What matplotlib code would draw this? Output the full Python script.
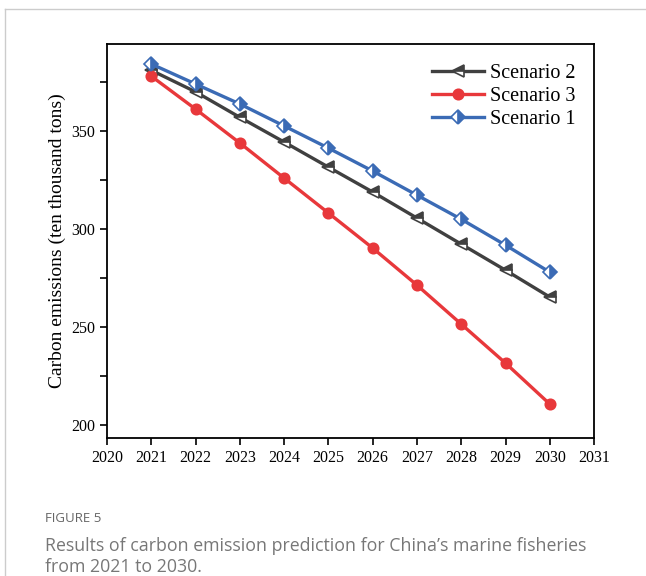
import matplotlib.pyplot as plt
from matplotlib.ticker import MultipleLocator
from matplotlib.lines import Line2D

years = [2021, 2022, 2023, 2024, 2025, 2026, 2027, 2028, 2029, 2030]
scenario1 = [384.2, 374.0, 363.8, 352.6, 341.3, 329.6, 317.3, 305.0, 291.8, 278.0]
scenario2 = [381.0, 370.0, 357.0, 344.4, 331.6, 318.9, 305.6, 292.3, 279.0, 265.3]
scenario3 = [378.0, 361.2, 343.9, 326.0, 308.2, 290.3, 271.4, 251.5, 231.6, 210.7]

plt.rcParams['font.family'] = ['Liberation Serif']

fig = plt.figure(figsize=(6.46, 5.76), dpi=100)
ax = fig.add_axes([0.1656, 0.2396, 0.754, 0.684])

ax.plot(years, scenario2, color='#404040', lw=2.4, marker='<', ms=8.5,
        fillstyle='top', markerfacecoloralt='white', mec='#404040', mew=1.2,
        label='Scenario 2')
ax.plot(years, scenario3, color='#E8383B', lw=2.4, marker='o', ms=7.5,
        mec='#E8383B', mfc='#E8383B', mew=1.2, label='Scenario 3')
ax.plot(years, scenario1, color='#3B6BB5', lw=2.4, marker='D', ms=7.5,
        fillstyle='right', markerfacecoloralt='white', mec='#3B6BB5', mew=1.2,
        label='Scenario 1')

ax.set_xlim(2020, 2031)
ax.set_ylim(193.4, 394.4)
ax.xaxis.set_major_locator(MultipleLocator(1))
ax.yaxis.set_major_locator(MultipleLocator(50))
ax.yaxis.set_minor_locator(MultipleLocator(25))
ax.tick_params(axis='both', which='both', direction='out', length=5, width=1.2, labelsize=11.5)
for s in ax.spines.values():
    s.set_linewidth(1.3)
ax.set_ylabel('Carbon emissions (ten thousand tons)', fontsize=14)

ax.legend(loc='upper right', frameon=False, fontsize=14.5, handlelength=2.6,
          labelspacing=0.2, handletextpad=0.3, bbox_to_anchor=(1.0, 0.995))

# caption
fig.text(45 / 646, 1 - 519 / 576, 'FIGURE 5', fontsize=9.5, color='#666666',
         family='Open Sans', va='center')
fig.text(45 / 646, 1 - 546 / 576, "Results of carbon emission prediction for China’s marine fisheries",
         fontsize=12.8, color='#777777', family='Open Sans', va='center')
fig.text(45 / 646, 1 - 567 / 576, "from 2021 to 2030.",
         fontsize=12.8, color='#777777', family='Open Sans', va='center')

# frame lines
fig.add_artist(Line2D([0.008, 0.008], [0, 0.985], color='#cccccc', lw=1, transform=fig.transFigure))
fig.add_artist(Line2D([0.008, 1], [0.985, 0.985], color='#cccccc', lw=1, transform=fig.transFigure))

plt.savefig('out.png', dpi=100)
